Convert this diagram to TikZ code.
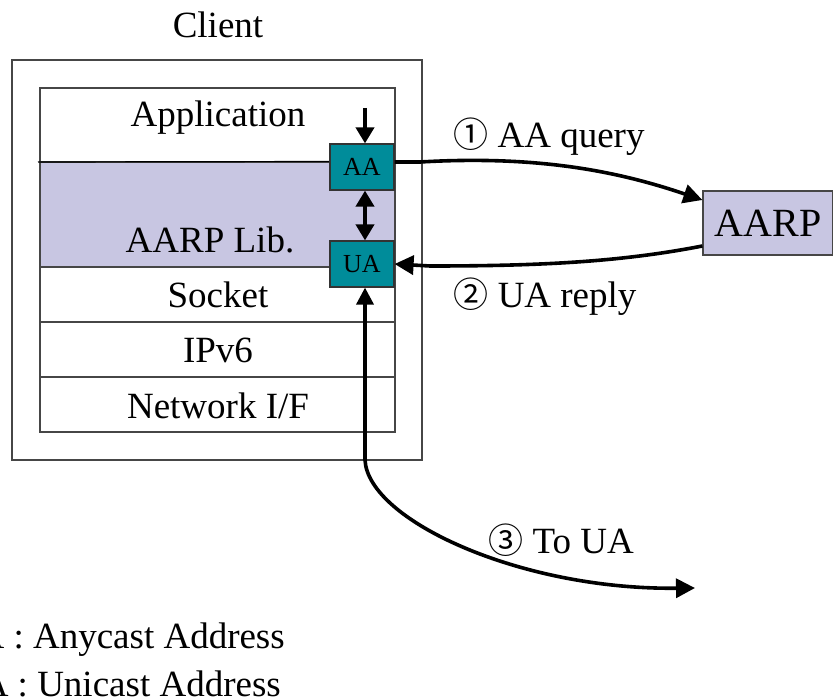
\documentclass[tikz,border=0pt]{standalone}
\usepackage{fontspec}
\setmainfont{Liberation Serif}
\newfontfamily\circfont{Noto Sans CJK JP}
\usetikzlibrary{arrows.meta}
\definecolor{libfill}{RGB}{200,198,226}
\definecolor{addrfill}{RGB}{0,140,154}
\definecolor{edge}{RGB}{70,70,70}
\newcommand{\circnum}[1]{{\circfont\fontsize{35}{36}\selectfont #1}}
\tikzset{
  big/.style={font=\fontsize{37}{40}\selectfont, inner sep=0pt},
  layer/.style={draw=edge, line width=1.2pt, minimum width=355pt, inner sep=0pt},
  addr/.style={draw=black!80, line width=1.2pt, fill=addrfill, minimum width=64pt,
    minimum height=46pt, inner sep=0pt, font=\fontsize{26}{28}\selectfont},
  flow/.style={line width=3.6pt, -{Triangle[length=19pt,width=19pt]}},
  flowboth/.style={line width=3.6pt, {Triangle[length=17pt,width=17pt]}-{Triangle[length=19pt,width=19pt]}},
}
\begin{document}
\begin{tikzpicture}[x=1pt,y=-1pt]
\useasboundingbox (0,0) rectangle (833,700);

% host frame
\node[big] (client) at (218,25) {Client};
\node[draw=edge, line width=1.2pt, minimum width=410pt, minimum height=400pt, inner sep=0pt]
  (host) at (217,260) {};

% protocol stack
\node[layer, minimum height=74pt] (app) at (217.5,125) {};
\node[layer, minimum height=105pt, fill=libfill] (lib) at (217.5,214.5) {};
\node[layer, minimum height=55pt] (sock) at (217.5,294.5) {};
\node[layer, minimum height=55pt] (ip) at (217.5,349.5) {};
\node[layer, minimum height=55pt] (nif) at (217.5,404.5) {};
\draw[line width=1.2pt] (38,162) -- (lib.north east);
\node[big] (appt) at (218,118) {Application};
\node[big] (libt) at (210,240) {AARP Lib.};
\node[big] (sockt) at (218,295) {Socket};
\node[big] (ipt) at (218,350) {IPv6};
\node[big] (nift) at (218,406) {Network I/F};

% addresses
\node[addr] (AA) at (362,167) {AA};
\node[addr] (UA) at (362,264) {UA};

% resolver
\node[draw=edge, line width=1.2pt, fill=libfill, minimum width=130pt, minimum height=64pt,
  inner sep=0pt, font=\fontsize{40}{42}\selectfont] (aarp) at (768,223) {AARP};

% connectors
\coordinate (in) at (365,108);
\draw[line width=3.8pt, -{Triangle[length=16pt,width=18pt]}] (in) -- ([xshift=3pt]AA.north);
\draw[line width=3.8pt, {Triangle[length=16pt,width=18pt]}-{Triangle[length=16pt,width=18pt]}]
  ([xshift=3pt]AA.south) -- ([xshift=3pt]UA.north);
\draw[flow] ([yshift=5pt]AA.east) -- (420,162)
  .. controls (540,155) and (620,172) .. ([yshift=23pt]aarp.west);
\draw[flow] ([yshift=-23pt]aarp.west) .. controls (620,262) and (540,266) .. (430,266)
  -- (UA.east);
\coordinate (dst) at (695,588);
\draw[flowboth] ([xshift=3pt]UA.south) -- (365,460)
  .. controls (368,520) and (520,590) .. (dst);

% labels
\node[big] (q) at (549,137) {\circnum{①} AA query};
\node[big] (r) at (545,297) {\circnum{②} UA reply};
\node[big] (t) at (561,540) {\circnum{③} To UA};

% legend
\node[big, anchor=east] (l1) at (285,640) {AA : Anycast Address};
\node[big, anchor=east] (l2) at (281,684) {UA : Unicast Address};
\end{tikzpicture}
\end{document}
